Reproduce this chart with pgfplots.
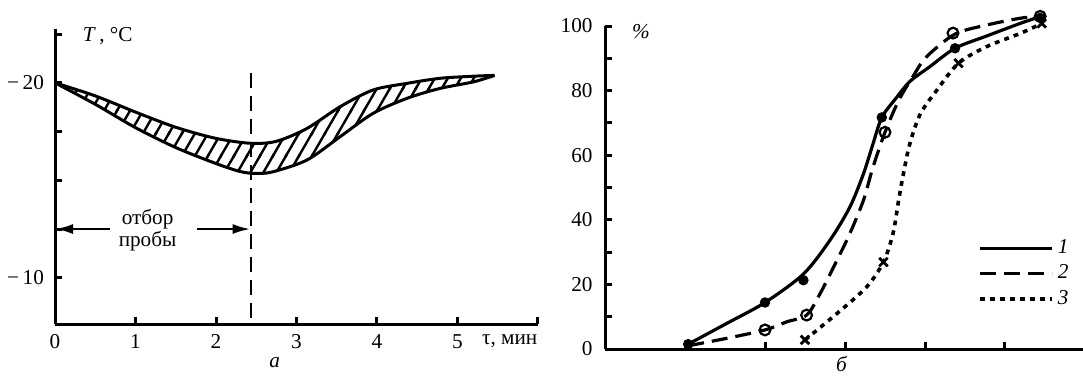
\documentclass[border=0pt]{standalone}
\usepackage{pgfplots}
\pgfplotsset{compat=1.18}
\usepgfplotslibrary{fillbetween}
\usetikzlibrary{patterns, arrows.meta}
\usepackage{fontspec}
\setmainfont{Liberation Serif}

\pgfdeclarepatternformonly{myhatch}{\pgfqpoint{-1pt}{-1pt}}{\pgfqpoint{7.5pt}{12.26pt}}{\pgfqpoint{6.5pt}{11.26pt}}{
  \pgfsetlinewidth{1.2pt}
  \pgfpathmoveto{\pgfqpoint{-0.5pt}{-0.866pt}}
  \pgfpathlineto{\pgfqpoint{7pt}{12.124pt}}
  \pgfusepath{stroke}}

\begin{document}
\fontsize{10.6pt}{12.6pt}\selectfont
\begin{tikzpicture}

% ---------------- left panel (a) ----------------
\begin{axis}[
  at={(27.5pt,28.5pt)}, anchor=south west,
  scale only axis, width=241.5pt, height=147.4pt,
  xmin=0, xmax=6, ymin=-22.75, ymax=-7.63, y dir=reverse,
  axis lines=left, axis line style={-, line width=1.5pt},
  tick style={line width=1.5pt, black}, major tick length=3.7pt,
  tick align=inside,
  xtick={0,1,2,3,4,5,6}, xticklabels={0,1,2,3,4,5,},
  ytick={-22.5,-20,-17.5,-15,-12.5,-10}, yticklabels={,−\,20,,,,−\,10},
  xticklabel style={yshift=-1.6pt},
  yticklabel style={xshift=-1.8pt},
  clip=false,
]
\addplot[name path=U, line width=1.5pt, smooth] coordinates {
 (0,-20) (0.5,-19.33) (1.0,-18.5) (1.5,-17.72) (2.0,-17.15) (2.43,-16.9)
 (2.75,-17.0) (3.13,-17.66) (3.54,-18.77) (3.95,-19.63) (4.37,-19.97)
 (4.78,-20.23) (5.2,-20.34) (5.46,-20.38)};
\addplot[name path=L, line width=1.5pt, smooth] coordinates {
 (0,-20) (0.5,-18.9) (1.0,-17.7) (1.5,-16.68) (2.0,-15.86) (2.3,-15.45)
 (2.5,-15.35) (2.71,-15.44) (3.13,-16.04) (3.54,-17.23) (3.95,-18.43)
 (4.37,-19.2) (4.78,-19.71) (5.2,-20.05) (5.46,-20.38)};
\addplot[draw=none, pattern=myhatch]
  fill between[of=U and L];
\addplot[line width=1pt, dash pattern=on 7.5pt off 4pt] coordinates {(2.43,-20.5) (2.43,-7.63)};
\draw[-{Latex[length=9pt,width=5pt]}, line width=1.3pt] (axis cs:0.68,-12.5) -- (axis cs:0,-12.5);
\draw[-{Latex[length=9pt,width=5pt]}, line width=1.3pt] (axis cs:1.76,-12.5) -- (axis cs:2.43,-12.5);
\node[align=center, inner sep=0pt] at (axis cs:1.15,-12.45) {отбор\\[-1.5pt]пробы};
\node[anchor=west, inner sep=0pt] at (axis cs:0.34,-22.42) {\textit{T}\,, °C};
\node[anchor=west, inner sep=0pt] at (axis cs:5.3,-6.72) {τ, мин};
\node[inner sep=0pt] at (axis cs:2.73,-5.63) {\textit{а}};
\end{axis}

% ---------------- right panel (b) ----------------
\begin{axis}[
  at={(302.5pt,16pt)}, anchor=south west,
  scale only axis, width=238.8pt, height=161.5pt,
  xmin=0, xmax=5.97, ymin=0, ymax=100,
  axis lines=left, axis line style={-, line width=1.5pt},
  tick style={line width=1.5pt, black}, major tick length=3.5pt,
  tick align=inside,
  xtick={0,1,2,3,4,5}, xticklabels={},
  ytick={0,10,...,100}, yticklabels={0,,20,,40,,60,,80,,100},
  yticklabel style={xshift=-2.5pt},
  clip=false,
  legend style={at={(axis cs:4.66,35.2)}, anchor=north west, draw=none, fill=none,
    font=\itshape, row sep=0pt, inner sep=0pt},
  legend cell align=left,
  legend image code/.code={\draw[#1] (0pt,0pt) -- (36pt,0pt);},
]
\addplot[line width=1.6pt, smooth] coordinates {
 (1.04,1.5) (1.52,7.9) (2.0,14.4) (2.48,23.2) (2.81,33.6) (3.06,43.9)
 (3.23,54.2) (3.35,63.5) (3.46,71.7) (3.63,77.4) (3.81,82.8) (4.06,87.4)
 (4.375,93.1) (4.77,96.9) (5.19,100.8) (5.44,102.9)};
\addlegendentry{1}
\addplot[line width=1.6pt, smooth, dash pattern=on 8pt off 4pt] coordinates {
 (1.04,1.0) (1.52,3.3) (2.0,5.9) (2.27,8.4) (2.52,10.5) (2.69,17.2) (2.9,27.5)
 (3.06,35.7) (3.23,46) (3.35,56.3) (3.5,67.1) (3.67,76.9) (3.85,84.4)
 (4.02,90.5) (4.375,97.5) (4.77,100.3) (5.19,102.4) (5.44,103)};
\addlegendentry{2}
\addplot[line width=1.8pt, smooth, dash pattern=on 2.4pt off 2.6pt] coordinates {
 (2.5,2.8) (2.9,11) (3.27,19.2) (3.48,26.9) (3.6,35.7) (3.67,46) (3.73,54.2)
 (3.81,63.5) (3.94,72.7) (4.15,80.2) (4.42,88.5) (4.77,93.6) (5.19,97.7) (5.46,100.8)};
\addlegendentry{3}
% markers
\addplot[forget plot, only marks, mark=*, mark size=2.4pt, black] coordinates {
 (1.04,1.5) (2.0,14.4) (2.48,21.3) (3.46,71.7) (4.375,93.1) (5.44,102.5)};
\addplot[forget plot, only marks, mark=o, mark size=2.7pt, black,
  mark options={line width=1.1pt, fill=white}] coordinates {
 (2.0,5.9) (2.52,10.5) (3.5,67.1) (4.35,97.8) (5.44,103)};
\addplot[forget plot, only marks, mark=x, mark size=3pt, black,
  mark options={line width=1.4pt}] coordinates {
 (2.5,2.8) (3.48,26.9) (4.42,88.5) (5.46,100.8)};
\node[inner sep=0pt] at (axis cs:0.45,98.2) {\textit{\%}};
\node[inner sep=0pt] at (axis cs:2.96,-4.6) {\textit{б}};
\end{axis}

\pgfresetboundingbox
\path[use as bounding box] (0,0) rectangle (541.5pt,190.5pt);
\end{tikzpicture}
\end{document}
